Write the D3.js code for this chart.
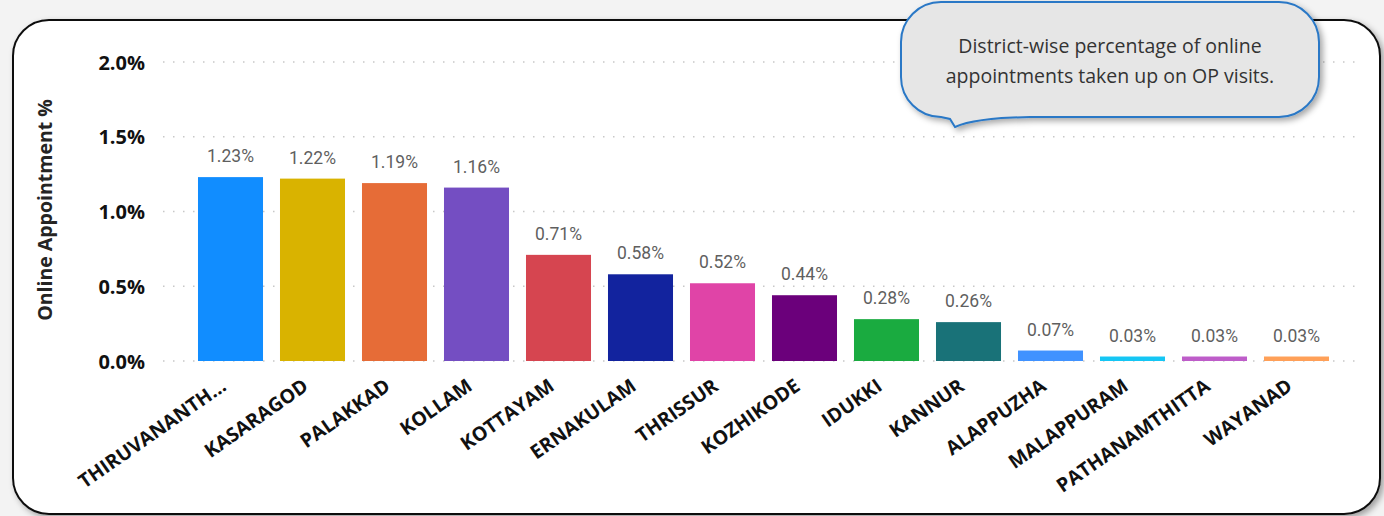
<!DOCTYPE html>
<html>
<head>
<meta charset="utf-8">
<script src="https://cdn.jsdelivr.net/npm/d3@7"></script>
<style>
  html, body { margin: 0; padding: 0; background: #f3f3f3; }
  svg { display: block; }
</style>
</head>
<body>
<div id="chart"></div>
<script>
// District-wise online appointment share
const districts = [
  "THIRUVANANTH...", "KASARAGOD", "PALAKKAD", "KOLLAM", "KOTTAYAM",
  "ERNAKULAM", "THRISSUR", "KOZHIKODE", "IDUKKI", "KANNUR",
  "ALAPPUZHA", "MALAPPURAM", "PATHANAMTHITTA", "WAYANAD"
];
const onlinePct = [1.23, 1.22, 1.19, 1.16, 0.71, 0.58, 0.52, 0.44, 0.28, 0.26, 0.07, 0.03, 0.03, 0.03];
const barColors = [
  "#118DFF", "#D9B300", "#E66C37", "#744EC2", "#D64550",
  "#12239E", "#E044A7", "#6B007B", "#1AAB40", "#197278",
  "#4092FF", "#15C6F4", "#BE5DC9", "#FFA058"
];
const yTicks = [0, 0.5, 1.0, 1.5, 2.0];
const calloutLines = [
  "District-wise percentage of online",
  "appointments taken up on OP visits."
];

const width = 1384;
const height = 516;

const svg = d3.select("#chart")
  .append("svg")
  .attr("width", width)
  .attr("height", height);

const defs = svg.append("defs");
const shadow = defs.append("filter").attr("id", "shadow")
  .attr("x", "-10%").attr("y", "-10%").attr("width", "130%").attr("height", "140%");
shadow.append("feDropShadow")
  .attr("dx", 3).attr("dy", 3).attr("stdDeviation", 3)
  .attr("flood-color", "#000").attr("flood-opacity", 0.35);

// card
svg.append("rect")
  .attr("x", 13).attr("y", 20)
  .attr("width", 1367).attr("height", 494)
  .attr("rx", 36)
  .attr("fill", "#fff")
  .attr("stroke", "#111")
  .attr("stroke-width", 2)
  .attr("filter", "url(#shadow)");

const x = d3.scaleBand()
  .domain(districts)
  .range([189.5, 1337.5])
  .paddingInner(0.207)
  .paddingOuter(0.1035);

const y = d3.scaleLinear()
  .domain([0, 2.0])
  .range([361, 62]);

// gridlines
svg.append("g")
  .selectAll("line")
  .data(yTicks)
  .enter()
  .append("line")
  .attr("x1", 163)
  .attr("x2", 1362)
  .attr("y1", d => y(d))
  .attr("y2", d => y(d))
  .attr("stroke", "#c8c8c8")
  .attr("stroke-width", 1.5)
  .attr("stroke-dasharray", "1.5,8.5");

// y axis labels
const yAxis = d3.axisLeft(y)
  .tickValues(yTicks)
  .tickSize(0)
  .tickPadding(0)
  .tickFormat(d => d.toFixed(1) + "%");

svg.append("g")
  .attr("transform", "translate(145,0)")
  .call(yAxis)
  .call(g => g.select(".domain").remove())
  .selectAll("text")
  .attr("font-family", "'Open Sans', sans-serif")
  .attr("font-weight", "bold")
  .attr("font-size", "20px")
  .attr("fill", "#111")
  .attr("dy", "0.35em");

svg.append("text")
  .attr("transform", "translate(52,210) rotate(-90)")
  .attr("text-anchor", "middle")
  .attr("font-family", "'Open Sans', sans-serif")
  .attr("font-weight", "bold")
  .attr("font-size", "19.5px")
  .attr("fill", "#252423")
  .text("Online Appointment %");

// bars
svg.append("g")
  .selectAll("rect")
  .data(districts)
  .enter()
  .append("rect")
  .attr("x", d => x(d))
  .attr("y", (d, i) => y(onlinePct[i]))
  .attr("width", x.bandwidth())
  .attr("height", (d, i) => y(0) - y(onlinePct[i]))
  .attr("fill", (d, i) => barColors[i]);

// data labels
svg.append("g")
  .selectAll("text")
  .data(districts)
  .enter()
  .append("text")
  .attr("x", d => x(d) + x.bandwidth() / 2)
  .attr("y", (d, i) => y(onlinePct[i]) - 15)
  .attr("text-anchor", "middle")
  .attr("font-family", "Roboto, sans-serif")
  .attr("font-size", "17.5px")
  .attr("fill", "#5f5f5f")
  .text((d, i) => onlinePct[i].toFixed(2) + "%");

// x axis labels
const xAxis = d3.axisBottom(x).tickSize(0).tickPadding(0);
svg.append("g")
  .attr("transform", `translate(0,${y(0)})`)
  .call(xAxis)
  .call(g => g.select(".domain").remove())
  .selectAll("text")
  .attr("font-family", "'Open Sans', sans-serif")
  .attr("font-weight", "bold")
  .attr("font-size", "19.5px")
  .attr("fill", "#111")
  .attr("text-anchor", "end")
  .attr("dy", 0)
  .attr("transform", "translate(-3,28) rotate(-35)");

// callout bubble
const cx0 = 901, cy0 = 2, cw = 418, ch = 115, cr = 40;
const bubble = d3.path();
bubble.moveTo(cx0 + cr, cy0);
bubble.lineTo(cx0 + cw - cr, cy0);
bubble.arcTo(cx0 + cw, cy0, cx0 + cw, cy0 + cr, cr);
bubble.lineTo(cx0 + cw, cy0 + ch - cr);
bubble.arcTo(cx0 + cw, cy0 + ch, cx0 + cw - cr, cy0 + ch, cr);
bubble.lineTo(1030, cy0 + ch);
bubble.quadraticCurveTo(975, cy0 + ch + 1, 955, cy0 + ch + 10);
bubble.lineTo(950, cy0 + ch + 2);
bubble.lineTo(cx0 + cr, cy0 + ch);
bubble.arcTo(cx0, cy0 + ch, cx0, cy0 + ch - cr, cr);
bubble.lineTo(cx0, cy0 + cr);
bubble.arcTo(cx0, cy0, cx0 + cr, cy0, cr);
bubble.closePath();

svg.append("path")
  .attr("d", bubble.toString())
  .attr("fill", "#e6e6e6")
  .attr("stroke", "#2a78c6")
  .attr("stroke-width", 2)
  .attr("filter", "url(#shadow)");

svg.append("g")
  .selectAll("text")
  .data(calloutLines)
  .enter()
  .append("text")
  .attr("x", 1110)
  .attr("y", (d, i) => 53 + i * 30)
  .attr("text-anchor", "middle")
  .attr("font-family", "'Open Sans', sans-serif")
  .attr("font-size", "19.5px")
  .attr("fill", "#333")
  .text(d => d);
</script>
</body>
</html>
